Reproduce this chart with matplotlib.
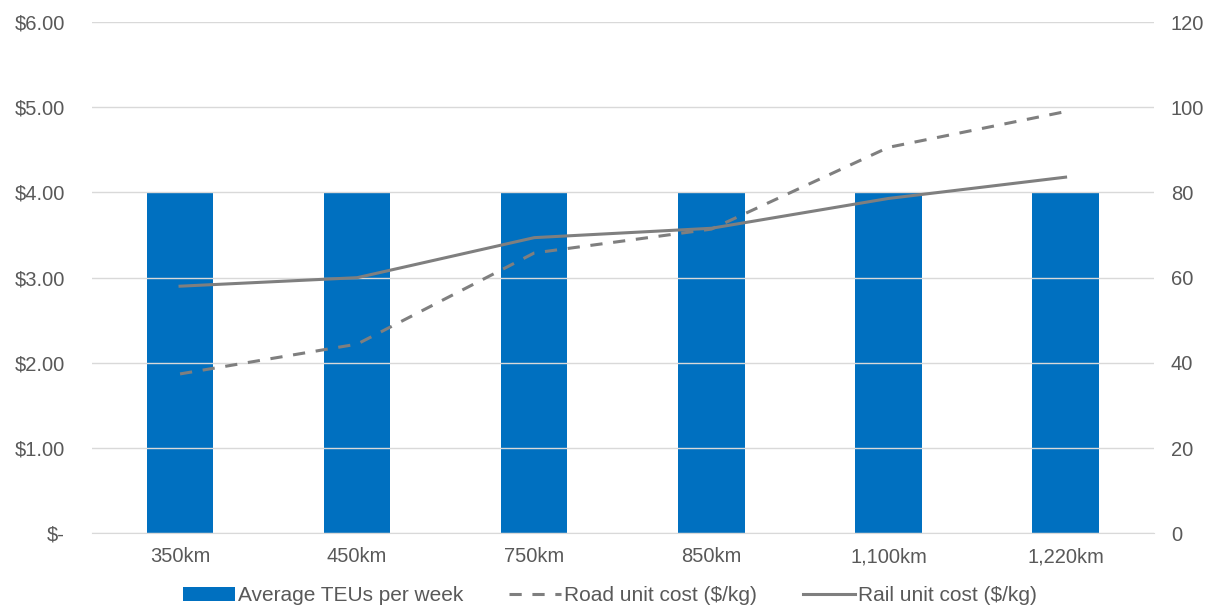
import numpy as np
from matplotlib import pyplot as plt
from matplotlib.ticker import FuncFormatter

plt.rcParams['font.family'] = ['Liberation Sans', 'DejaVu Sans']

distances = ['350km', '450km', '750km', '850km', '1,100km', '1,220km']
teus_per_week = [80, 80, 80, 80, 80, 80]
road_cost = [1.87, 2.22, 3.29, 3.57, 4.53, 4.95]
rail_cost = [2.90, 3.00, 3.47, 3.58, 3.93, 4.18]

grey = '#595959'
line_grey = '#7f7f7f'
blue = '#0070c0'

fig = plt.figure(figsize=(12.2, 6.15), dpi=100)
ax = fig.add_axes([0.075, 0.133, 0.871, 0.831])
ax2 = ax.twinx()

x = np.arange(len(distances))
bars = ax2.bar(x, teus_per_week, width=0.375, color=blue, zorder=2,
               label='Average TEUs per week')
ax2.set_ylim(0, 120)
ax2.set_yticks(np.arange(0, 121, 20))

road, = ax.plot(x, road_cost, color=line_grey, lw=2.2, ls=(0, (4, 3.5)),
                label='Road unit cost ($/kg)', zorder=5)
rail, = ax.plot(x, rail_cost, color=line_grey, lw=2.2,
                label='Rail unit cost ($/kg)', zorder=5)
ax.set_ylim(0, 6)
ax.set_yticks(np.arange(0, 6.1, 1))
ax.yaxis.set_major_formatter(FuncFormatter(lambda v, p: '$-' if v == 0 else '${:.2f}'.format(v)))
ax.set_xlim(-0.5, len(distances) - 0.5)
ax.set_xticks(x)
ax.set_xticklabels(distances)

# lines on top of bars
ax.set_zorder(ax2.get_zorder() + 1)
ax.patch.set_visible(False)
ax2.grid(False)
ax.grid(axis='y', color='#d9d9d9', lw=1)
ax.set_axisbelow(True)

for a in (ax, ax2):
    for s in a.spines.values():
        s.set_visible(False)
    a.tick_params(length=0, labelsize=14.5, colors=grey)
ax.tick_params(axis='y', pad=19)
ax2.tick_params(axis='y', pad=12)
ax.tick_params(axis='x', pad=10)
ax.spines['bottom'].set_visible(True)
ax.spines['bottom'].set_color('#d9d9d9')

fig.legend([bars, road, rail], [bars.get_label(), road.get_label(), rail.get_label()],
           loc='lower center', bbox_to_anchor=(0.5, -0.015), ncol=3, frameon=False,
           fontsize=15, labelcolor=grey, handlelength=2.5, handletextpad=0.15,
           columnspacing=2.2)

plt.savefig('out.png', dpi=100)
